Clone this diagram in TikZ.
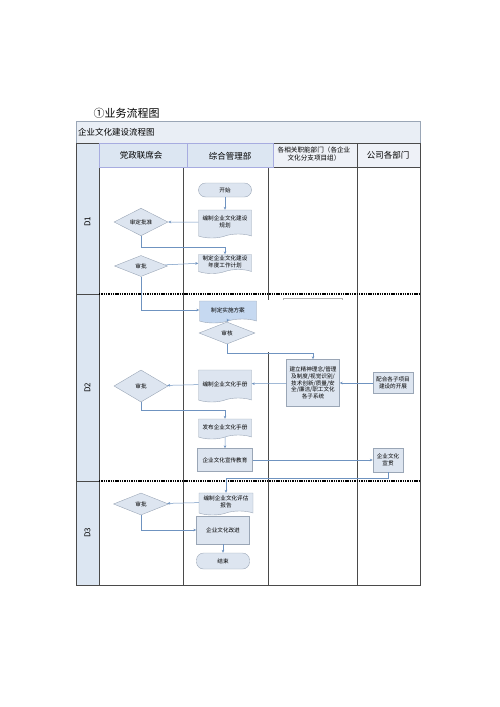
\documentclass[tikz,border=0pt]{standalone}
\usepackage{fontspec}
\setmainfont{Noto Sans CJK SC}
\usetikzlibrary{shapes.geometric,shapes.symbols,arrows.meta}
\definecolor{laneblue}{HTML}{DCE6F2}
\definecolor{headpale}{HTML}{EEF1F7}
\definecolor{titlepale}{HTML}{E9EEF5}
\definecolor{boxfill}{HTML}{DDE5F0}
\definecolor{boxdark}{HTML}{C6D9F1}
\definecolor{boxline}{HTML}{9AA6B6}
\definecolor{flowline}{HTML}{6F93C0}
\definecolor{frameline}{HTML}{4A4A4A}

\begin{document}
\begin{tikzpicture}[x=1pt, y=-1pt,
    tiny/.style={font=\fontsize{5.6}{6.8}\selectfont, align=center, inner sep=0pt},
    procbox/.style={tiny, rectangle, draw=boxline, fill=boxfill, line width=0.4pt},
    docbox/.style={tiny, tape, tape bend top=none, tape bend height=4pt, draw=boxline, fill=boxfill, line width=0.4pt},
    decision/.style={tiny, diamond, draw=boxline, fill=boxfill, line width=0.4pt},
    terminal/.style={tiny, rectangle, rounded corners=7pt, draw=boxline, fill=boxfill, line width=0.4pt},
    flow/.style={draw=flowline, line width=0.5pt, -{Stealth[length=3pt,width=2.6pt]}},
    lane/.style={draw=frameline, line width=0.6pt},
    stage/.style={draw=black, line width=1.8pt, dash pattern=on 1.4pt off 0.9pt}]
    \useasboundingbox (0,0) rectangle (500,707);

    % title
    \node[font=\fontsize{11}{13}\selectfont, anchor=west] (title) at (90,113) {①业务流程图};

    % frame and header
    \draw[draw=boxline, fill=titlepale] (76,121) rectangle (420,143);
    \node[font=\fontsize{8.5}{10}\selectfont, anchor=west, inner sep=0pt] (chart) at (78,132) {企业文化建设流程图};
    \fill[laneblue] (76,143) rectangle (99,585);
    \fill[headpale] (268,143) rectangle (420,167);

    % lanes
    \draw[lane] (76,143) rectangle (420,585);
    \draw[lane] (99,143) -- (99,585);
    \draw[lane] (183,167) -- (183,585);
    \draw[lane] (268,143) -- (268,300);
    \draw[lane] (268,352) -- (268,585);
    \draw[lane] (357,143) -- (357,585);
    \draw[lane] (99,167) -- (420,167);
    \draw[lane] (76,294) -- (99,294);
    \draw[lane] (76,481) -- (99,481);

    % header cells
    \draw[draw=boxline!70!blue!60, fill=laneblue] (99,143) rectangle (187,167);
    \draw[draw=boxline!70!blue!60, fill=laneblue] (187,143) rectangle (273,167);
    \node[font=\fontsize{8.5}{10}\selectfont] (party) at (141,155) {党政联席会};
    \node[font=\fontsize{8.5}{10}\selectfont] (admin) at (230,156) {综合管理部};
    \node[font=\fontsize{6.6}{8}\selectfont, align=center, inner sep=0pt] (func) at (314,154) {各相关职能部门（各企业\\文化分支项目组）};
    \node[font=\fontsize{8.5}{10}\selectfont] (depts) at (388,155) {公司各部门};

    % stages
    \draw[stage] (99,294) -- (420,294);
    \draw[stage] (99,481) -- (420,481);
    \node[font=\fontsize{8}{10}\selectfont, rotate=90] (d1) at (87.5,222) {D1};
    \node[font=\fontsize{8}{10}\selectfont, rotate=90] (d2) at (87.5,388) {D2};
    \node[font=\fontsize{8}{10}\selectfont, rotate=90] (d3) at (87.5,533) {D3};
    \draw[gray!60, line width=0.5pt] (283,300) -- (283,298) -- (342,298) -- (342,300);

    % D1
    \node[terminal, minimum width=53pt, minimum height=14pt] (start) at (225,190) {开始};
    \node[docbox, minimum width=53pt, minimum height=28pt] (plan) at (225,222) {编制企业文化建设\\规划};
    \node[decision, minimum width=54pt, minimum height=21pt] (approve) at (141,222) {审定批准};
    \node[docbox, minimum width=53pt, minimum height=19pt] (annual) at (225,262) {制定企业文化建设\\年度工作计划};
    \node[decision, minimum width=53pt, minimum height=21pt] (check1) at (141,266) {审批};

    % D2
    \node[docbox, fill=boxdark, minimum width=57pt, minimum height=22pt] (scheme) at (228,310) {制定实施方案};
    \node[decision, minimum width=56pt, minimum height=22pt] (audit) at (227,333) {审核};
    \node[procbox, minimum width=53pt, minimum height=47pt] (system) at (313,383) {建立精神理念/管理\\及制度/视觉识别/\\技术创新/质量/安\\全/廉洁/职工文化\\各子系统};
    \node[procbox, minimum width=40pt, minimum height=21pt] (support) at (393,383) {配合各子项目\\建设的开展};
    \node[docbox, minimum width=53pt, minimum height=32pt] (manual) at (225,384) {编制企业文化手册};
    \node[decision, minimum width=54pt, minimum height=32pt] (check2) at (141,386) {审批};
    \node[docbox, minimum width=53pt, minimum height=20pt] (publish) at (225,427) {发布企业文化手册};
    \node[procbox, minimum width=55pt, minimum height=23pt] (promote) at (225,460) {企业文化宣传教育};
    \node[procbox, minimum width=30pt, minimum height=24pt] (spread) at (388,460) {企业文化\\宣贯};

    % D3
    \node[docbox, minimum width=54pt, minimum height=22pt] (report) at (226,502) {编制企业文化评估\\报告};
    \node[decision, minimum width=55pt, minimum height=22pt] (check3) at (141,504) {审批};
    \node[procbox, minimum width=53pt, minimum height=28pt] (improve) at (223,530) {企业文化改进};
    \node[terminal, minimum width=53pt, minimum height=16pt] (stop) at (223,561) {结束};

    % connectors
    \draw[flow] (start) -- (plan);
    \draw[flow] (plan) -- (approve);
    \draw[flow] (approve.south) -- ++(0,11) -| (annual.north);
    \draw[flow] (check1) -- (annual);
    \draw[flow] (check1.south) |- (scheme.west);
    \draw[flow] (scheme.south) -- (audit.north);
    \draw[flow] (audit.south) -- ++(0,9) -| (system.north);
    \draw[flow] (support) -- (system);
    \draw[flow] (system) -- (manual);
    \draw[flow] (manual) -- (check2);
    \draw[flow] (check2.south) -- ++(0,8) -| (publish.north);
    \draw[flow] (publish) -- (promote);
    \draw[flow] (promote) -- (spread);
    \draw[flow] (spread.south) -- ++(0,6) -| (report.north);
    \draw[flow] (report) -- (check3);
    \draw[flow] (check3.south) |- (improve.west);
    \draw[flow] (improve) -- (stop);
\end{tikzpicture}
\end{document}
